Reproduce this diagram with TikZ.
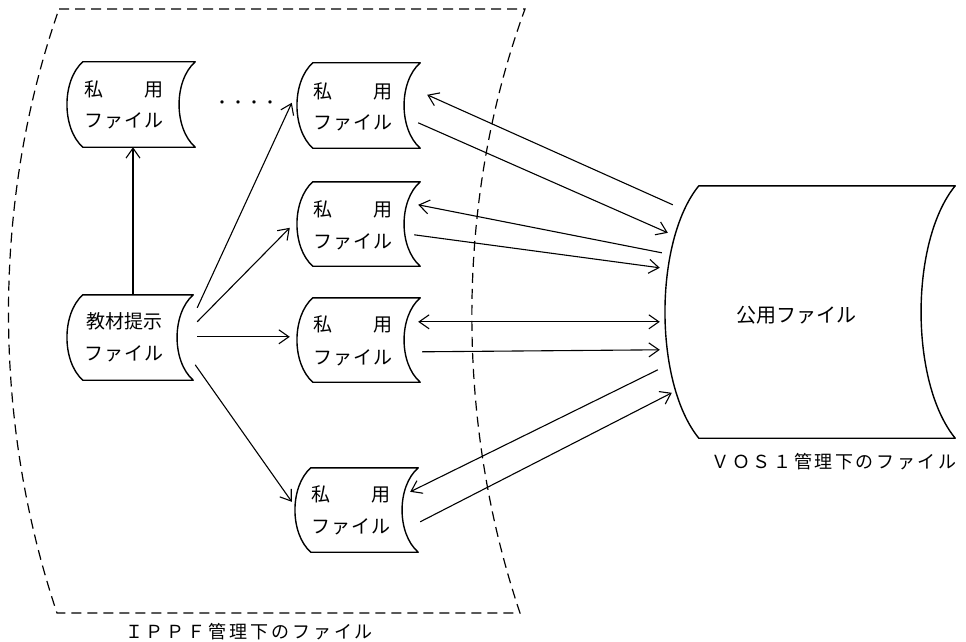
\documentclass[tikz,border=0pt]{standalone}
\usepackage{fontspec}
\newfontfamily\jp{Noto Sans CJK JP}
\usetikzlibrary{arrows.meta,calc}

% file symbol: #1 name, #2 left, #3 top, #4 right, #5 bottom, #6 bulge
\newcommand\filesym[6]{%
  \node[inner sep=0,minimum width={(#4-#2)*1pt},minimum height={(#5-#3)*1pt}]
    (#1) at ({(#2+#4)/2},{(#3+#5)/2}) {};
  \draw[fileline] (#1.north west) -- (#1.north east)
    .. controls ({#4-1.333*#6},{#3+0.22*(#5-#3)}) and ({#4-1.333*#6},{#5-0.22*(#5-#3)}) .. (#1.south east)
    -- (#1.south west)
    .. controls ({#2-1.333*#6},{#5-0.22*(#5-#3)}) and ({#2-1.333*#6},{#3+0.22*(#5-#3)}) .. cycle;
}
\newcommand\shiyou{\makebox[80pt][s]{私\hfill 用}}
\newcommand\fairu{\makebox[80pt][s]{フ\hfill ァ\hfill イ\hfill ル}}

\begin{document}
\begin{tikzpicture}[x=1pt,y=-1pt,
  fileline/.style={line width=1.4pt,line join=round},
  tip/.tip={Straight Barb[length=10pt,width=14pt,line width=1.1pt]},
  conn/.style={line width=1.1pt,-tip},
  biconn/.style={line width=1.1pt,tip-tip},
  region/.style={line width=1.2pt,dash pattern=on 10pt off 6pt},
  txt/.style={font=\jp\fontsize{19}{19}\selectfont,inner sep=0},
  captext/.style={font=\jp\fontsize{18}{18}\selectfont,inner sep=0},
  ]
\fill[white] (0,0) rectangle (966,642);
\useasboundingbox (0,0) rectangle (966,642);

% area managed by IPPF
\draw[region] (59,9) -- (525,9) .. controls (455,200) and (455,420) .. (520,613)
  -- (57,613) .. controls (-8,420) and (-8,200) .. cycle;

% files
\filesym{f1}{83}{62}{195}{147}{16}
\filesym{tm}{83}{295}{193}{380}{16}
\filesym{f2}{313}{63}{420}{148}{16}
\filesym{f3}{313}{182}{420}{266}{16}
\filesym{f4}{313}{298}{420}{382}{16}
\filesym{f5}{311}{468}{418}{552}{16}
\filesym{pub}{699}{186}{955}{438}{34}

% file labels
\node[txt] (f1a) at (124,89) {\shiyou};
\node[txt] (f1b) at (124,121) {\fairu};
\node[txt] (tma) at (124,321) {教材提示};
\node[txt] (tmb) at (124,354) {\fairu};
\node[txt] (f2a) at (353,91) {\shiyou};
\node[txt] (f2b) at (353,123) {\fairu};
\node[txt] (f3a) at (353,209) {\shiyou};
\node[txt] (f3b) at (353,242) {\fairu};
\node[txt] (f4a) at (353,324) {\shiyou};
\node[txt] (f4b) at (353,358) {\fairu};
\node[txt] (f5a) at (351,494) {\shiyou};
\node[txt] (f5b) at (351,527) {\fairu};
\node[txt,font=\jp\fontsize{20}{20}\selectfont] (pubt) at (796,315) {公用ファイル};
\node[font=\jp\fontsize{16}{16}\selectfont,inner sep=0] (dots) at (246,105) {・・・・};

% captions
\node[captext] (capa) at (249,632) {\makebox[248pt][s]{Ｉ\hfill Ｐ\hfill Ｐ\hfill Ｆ\hfill 管\hfill 理\hfill 下\hfill の\hfill フ\hfill ァ\hfill イ\hfill ル}};
\node[captext] (capb) at (834,462) {\makebox[245pt][s]{Ｖ\hfill Ｏ\hfill Ｓ\hfill １\hfill 管\hfill 理\hfill 下\hfill の\hfill フ\hfill ァ\hfill イ\hfill ル}};

% teaching-material file to private files
\draw[conn] ([xshift=-5pt]tm.north) -- ([xshift=-6pt]f1.south);
\draw[conn] ([shift={(4,13)}]tm.north east) -- ([shift={(-21,40)}]f2.north west);
\draw[conn] ([shift={(4,27)}]tm.north east) -- ([shift={(-23,46)}]f3.north west);
\draw[conn] ([shift={(4,42)}]tm.north east) -- ([shift={(-23,39)}]f4.north west);
\draw[conn] ([shift={(2,70)}]tm.north east) -- ([shift={(-19,34)}]f5.north west);

% private files and public file
\draw[conn] ([shift={(-26,19)}]pub.north west) -- ([shift={(7,32)}]f2.north east);
\draw[conn] ([shift={(-2,60)}]f2.north east) -- ([shift={(-31,47)}]pub.north west);
\draw[conn] ([shift={(-37,67)}]pub.north west) -- ([shift={(-2,23)}]f3.north east);
\draw[conn] ([shift={(-6,53)}]f3.north east) -- ([shift={(-39,82)}]pub.north west);
\draw[biconn] ([shift={(-2,24)}]f4.north east) -- ([shift={(-39,136)}]pub.north west);
\draw[conn] ([shift={(2,54)}]f4.north east) -- ([shift={(-39,164)}]pub.north west);
\draw[conn] ([shift={(-41,184)}]pub.north west) -- ([shift={(-8,24)}]f5.north east);
\draw[conn] ([shift={(2,54)}]f5.north east) -- ([shift={(-27,207)}]pub.north west);
\end{tikzpicture}
\end{document}
